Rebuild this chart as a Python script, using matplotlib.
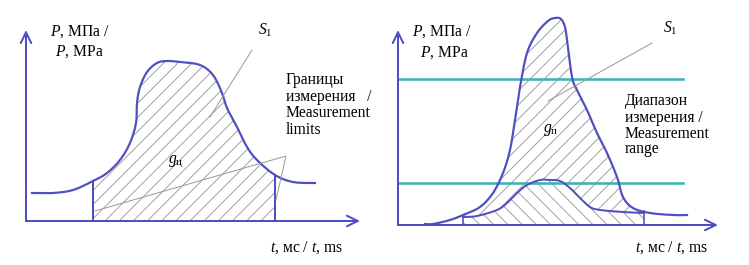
import numpy as np
import matplotlib
matplotlib.use('Agg')
import matplotlib.pyplot as plt

# --- данные схемы (t, P в условных единицах) ---
# левая панель: импульс давления и границы измерения
left_t = [6, 27, 47, 67, 81, 94, 104, 110, 111, 114, 121, 131, 141, 154,
          174, 187, 196, 201, 211, 221, 231, 249, 267, 289]
left_p = [28, 28, 31, 40, 48, 61, 78, 98, 118, 134, 149, 158, 160, 159,
          156, 146, 128, 113, 94, 74, 61, 46, 39, 38]
left_bounds = [67, 249]

# правая панель: два импульса и диапазон измерения
right_outer_t = [27, 35, 52, 65, 82, 95, 105, 112, 117, 122, 129, 139, 150,
                 157, 163, 167, 169, 174, 179, 189, 199, 209, 219, 225, 235,
                 252, 275, 289]
right_outer_p = [1, 1, 5, 10, 18, 32, 52, 75, 105, 138, 172, 192, 204,
                 207, 206, 198, 185, 148, 135, 115, 92, 72, 48, 28, 17,
                 12, 10, 10]
right_inner_t = [65, 79, 99, 109, 119, 129, 142, 152, 162, 172, 182, 192,
                 202, 225, 246]
right_inner_p = [8, 9, 15, 22, 32, 40, 45, 45, 44, 37, 27, 18, 15, 13, 12]
right_bounds = [65, 246]
range_levels = [42, 146]

DPI = 85
PT = 72 / DPI          # пиксели -> пункты
BLUE = '#4f4fc4'
TEAL = '#3fb4b2'
GRAY = '#9a9a9a'

plt.rcParams['font.family'] = ['Liberation Serif', 'DejaVu Serif']
plt.rcParams['mathtext.fontset'] = 'custom'
plt.rcParams['mathtext.rm'] = 'Liberation Serif'
plt.rcParams['mathtext.it'] = 'Liberation Serif:italic'
plt.rcParams['hatch.linewidth'] = 0.9 * PT
FS = 15.6 * PT


def smooth(xs, ys, n=12):
    """Catmull-Rom, только для гладкости линии"""
    p = np.column_stack([xs, ys]).astype(float)
    p = np.vstack([p[0], p, p[-1]])
    out = []
    s = np.linspace(0, 1, n, endpoint=False)
    for i in range(1, len(p) - 2):
        p0, p1, p2, p3 = p[i - 1], p[i], p[i + 1], p[i + 2]
        for u in s:
            out.append(0.5 * ((2 * p1) + (-p0 + p2) * u
                              + (2 * p0 - 5 * p1 + 4 * p2 - p3) * u ** 2
                              + (-p0 + 3 * p1 - 3 * p2 + p3) * u ** 3))
    out.append(p[-2])
    out = np.array(out)
    return out[:, 0], out[:, 1]


def clip(x, y, lo, hi):
    m = (x >= lo) & (x <= hi)
    return x[m], y[m]


def draw_axes(ax, x_tip, y_tip):
    arrow = dict(arrowstyle='->,head_length=0.45,head_width=0.22',
                 lw=2 * PT, color=BLUE, shrinkA=0, shrinkB=0,
                 mutation_scale=24 * PT)
    ax.annotate('', xy=(x_tip, 0), xytext=(0, 0), arrowprops=arrow)
    ax.annotate('', xy=(0, y_tip), xytext=(0, 0), arrowprops=arrow)


fig = plt.figure(figsize=(749 / DPI, 265 / DPI), dpi=DPI)

# ---------- левая панель ----------
ax1 = fig.add_axes([0, 0, 375 / 749, 1])
ax1.set_xlim(-26, 349)
ax1.set_ylim(-44, 221)
ax1.axis('off')

cx, cy = smooth(left_t, left_p)
lo, hi = left_bounds
hx, hy = clip(cx, cy, lo, hi)
ax1.fill(np.r_[lo, lo, hx, hi, hi], np.r_[0, np.interp(lo, left_t, left_p), hy,
                                          np.interp(hi, left_t, left_p), 0],
         facecolor='none', edgecolor=GRAY, linewidth=0, hatch='//')
ax1.plot(cx, cy, color=BLUE, lw=2.2 * PT)
for b in left_bounds:
    ax1.plot([b, b], [0, np.interp(b, left_t, left_p)], color=BLUE, lw=2 * PT)
draw_axes(ax1, 334, 191)

# выноски
ax1.plot([226, 184], [171, 104], color=GRAY, lw=1 * PT)
ax1.plot([69, 260, 250], [10, 65, 21], color=GRAY, lw=1 * PT)

ax1.text(24, 185, r'$P$, МПа /', fontsize=FS)
ax1.text(29, 165, r'$P$, MPa', fontsize=FS)
ax1.text(232, 186, r'$S_{\rm 1}$', fontsize=FS)
for yy, s in zip([137, 120, 104, 87],
                 ['Границы', 'измерения   /', 'Measurement', 'limits']):
    ax1.text(260, yy, s, fontsize=FS)
ax1.text(142, 58, r'$g_{\rm ц}$', fontsize=FS)
ax1.text(244, -31, r'$t$, мс / $t$, ms', fontsize=FS)

# ---------- правая панель ----------
ax2 = fig.add_axes([375 / 749, 0, 374 / 749, 1])
ax2.set_xlim(-23, 351)
ax2.set_ylim(-40, 225)
ax2.axis('off')

ox, oy = smooth(right_outer_t, right_outer_p)
ix, iy = smooth(right_inner_t, right_inner_p)
lo, hi = right_bounds
hox, hoy = clip(ox, oy, lo, hi)
ax2.fill(np.r_[hox, ix[::-1]], np.r_[hoy, iy[::-1]],
         facecolor='none', edgecolor=GRAY, linewidth=0, hatch='//')
ax2.fill(np.r_[lo, ix, hi], np.r_[0, iy, 0],
         facecolor='none', edgecolor=GRAY, linewidth=0, hatch='\\\\')

for lvl in range_levels:
    ax2.plot([0, 285], [lvl, lvl], color=TEAL, lw=2.6 * PT)

ax2.plot(ox, oy, color=BLUE, lw=2.2 * PT)
ax2.plot(ix, iy, color=BLUE, lw=2 * PT)
for b in right_bounds:
    ax2.plot([b, b], [0, np.interp(b, right_outer_t, right_outer_p)],
             color=BLUE, lw=1.6 * PT)
draw_axes(ax2, 320, 195)

ax2.plot([254, 150], [182, 124], color=GRAY, lw=1 * PT)

ax2.text(14, 189, r'$P$, МПа /', fontsize=FS)
ax2.text(22, 168, r'$P$, MPa', fontsize=FS)
ax2.text(265, 192, r'$S_{\rm 1}$', fontsize=FS)
for yy, s in zip([120, 103, 87, 72],
                 ['Диапазон', 'измерения /', 'Measurement', 'range']):
    ax2.text(227, yy, s, fontsize=FS)
ax2.text(145, 93, r'$g_{\rm п}$', fontsize=FS)
ax2.text(237, -27, r'$t$, мс / $t$, ms', fontsize=FS)

fig.savefig('out.png', dpi=DPI, facecolor='white')
